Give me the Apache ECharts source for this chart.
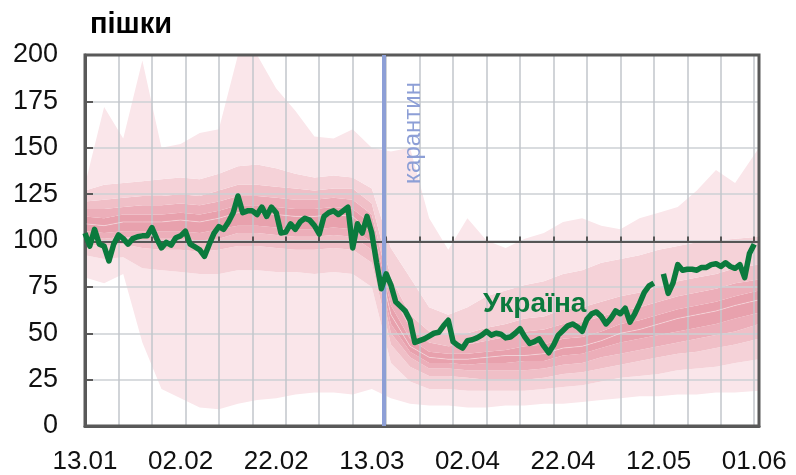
<!DOCTYPE html>
<html>
<head>
<meta charset="utf-8">
<script src="https://cdn.jsdelivr.net/npm/echarts@6/dist/echarts.min.js"></script>
<style>
  html, body { margin: 0; padding: 0; background: #fff; }
  #chart { width: 796px; height: 475px; }
</style>
</head>
<body>
<div id="chart"></div>
<script>
// дні від 13.01 (0) до 02.06 (141)
const dateLabels = ['13.01', '02.02', '22.02', '13.03', '02.04', '22.04', '12.05', '01.06'];
const quarantineDay = 62.5;

// Україна, пішки (щоденно, день 0..140)
const ukraine = [
  104, 97, 106, 98, 97, 89, 98, 103, 101, 98,
  101, 102, 102.5, 102.5, 107, 101, 96, 99, 97.5, 101.5,
  102.5, 105, 98, 96.5, 95, 91.5, 98, 104, 107.5, 106,
  110, 115, 124, 115, 116, 116, 114, 118, 113, 118,
  115, 104, 104.5, 109, 106, 110, 112, 111, 108, 103.5,
  113, 115, 116, 114, 116, 118, 96, 109, 104, 113,
  104, 88, 74, 82, 76, 67, 64.5, 62, 57, 45,
  46, 47, 48.5, 50, 50.5, 54, 57, 45.5, 43.5, 42,
  46, 46.5, 47.5, 49, 51, 49, 50, 49.5, 47.5, 48,
  50, 52.5, 48, 44.5, 45.5, 47, 43, 39.5, 43.5, 49,
  51.5, 54, 55, 53.5, 51, 57.5, 60.5, 61.5, 59, 55,
  58, 62, 60.5, 63.5, 56, 60.5, 66, 72, 75.5, 77,
  null, 82, 71.5, 77, 87, 84, 84.5, 84.5, 84, 85.5,
  85.5, 87, 87.5, 86, 88, 86, 85, 87, 80, 93,
  98
];

// віяло розподілу по регіонах (кожні 4 дні)
const bandDays = [0, 4, 8, 12, 16, 20, 24, 28, 32, 36, 40, 44, 48, 52, 56, 60, 64, 68, 72, 76,
  80, 84, 88, 92, 96, 100, 104, 108, 112, 116, 120, 124, 128, 132, 136, 141];
const lo1 = [80, 77, 82, 45, 20, 15, 10, 9, 12, 14, 15, 17, 18, 18, 17, 20, 15, 12, 11, 11, 10, 10, 11, 11, 12, 12, 13, 14, 15, 16, 16, 17, 17, 18, 18, 19];
const lo2 = [92, 90, 91, 85, 84, 83, 82, 82, 84, 84, 83, 83, 82, 83, 82, 75, 34, 24, 20, 20, 19, 19, 19, 19, 20, 21, 22, 24, 26, 27, 28, 30, 31, 32, 34, 36];
const lo3 = [98, 97, 98, 96, 95, 95, 94, 95, 97, 97, 96, 95, 95, 96, 95, 88, 44, 32, 27, 27, 26, 25, 25, 25, 26, 28, 29, 31, 33, 35, 37, 39, 40, 42, 44, 47];
const lo4 = [102, 101, 102, 101, 101, 101, 100, 101, 104, 104, 103, 102, 102, 103, 102, 95, 50, 37, 31, 31, 30, 30, 30, 30, 31, 33, 34, 37, 39, 41, 43, 45, 47, 49, 51, 55];
const lo5 = [105, 104, 105, 105, 105, 105, 104, 106, 108, 108, 107, 106, 106, 107, 106, 99, 55, 40, 34, 34, 33, 34, 34, 35, 35, 38, 39, 42, 45, 47, 49, 51, 53, 55, 58, 61];
const med = [109, 108, 110, 110, 110, 111, 110, 112, 115, 115, 114, 113, 113, 114, 113, 104, 60, 43, 37, 36, 36, 37, 38, 38, 39, 42, 43, 46, 50, 52, 55, 58, 60, 62, 65, 68];
const hi5 = [113, 112, 114, 114, 114, 115, 114, 116, 119, 119, 118, 117, 117, 118, 117, 109, 65, 47, 40, 39, 39, 40, 41, 43, 44, 47, 48, 51, 55, 57, 60, 63, 65, 67, 70, 73];
const hi4 = [117, 117, 118, 119, 119, 120, 119, 121, 124, 124, 123, 122, 122, 123, 122, 114, 72, 53, 45, 43, 44, 46, 48, 51, 52, 55, 56, 59, 62, 64, 67, 70, 72, 74, 77, 79];
const hi3 = [121, 122, 123, 124, 124, 125, 124, 127, 130, 130, 129, 128, 127, 128, 128, 120, 80, 60, 51, 49, 50, 53, 55, 58, 59, 63, 64, 67, 70, 72, 75, 78, 80, 82, 85, 87];
const hi2 = [127, 130, 131, 132, 133, 134, 133, 136, 140, 141, 139, 136, 134, 135, 134, 128, 96, 80, 64, 60, 64, 70, 73, 76, 78, 82, 84, 88, 90, 92, 95, 97, 99, 100, 101, 102];
const hi1 = [130, 172, 155, 197, 150, 152, 158, 160, 200, 200, 182, 170, 156, 155, 160, 150, 148, 150, 112, 95, 112, 100, 96, 101, 104, 110, 112, 108, 106, 112, 115, 118, 127, 138, 131, 150];

const font = 'Liberation Sans';
const green = '#0b7a3d';
const blue = '#8d9fd6';

const chart = echarts.init(document.getElementById('chart'));

const bounds = [lo1, lo2, lo3, lo4, lo5, med, hi5, hi4, hi3, hi2, hi1];
const bandColors = [null, '#fae6ea', '#f5d2d8', '#f0bfc7', '#ecaeb9', '#e8a1ad',
  '#e8a1ad', '#ecaeb9', '#f0bfc7', '#f5d2d8', '#fae6ea'];
const bandSeries = bounds.map((arr, k) => ({
  type: 'line',
  stack: 'fan',
  xAxisIndex: 0,
  symbol: 'none',
  silent: true,
  z: 2,
  lineStyle: { opacity: 0 },
  areaStyle: k === 0 ? { opacity: 0 } : { color: bandColors[k], opacity: 1 },
  data: arr.map((v, i) => [bandDays[i], k === 0 ? v : v - bounds[k - 1][i]])
}));

const days = Array.from({ length: 142 }, (_, i) => i);

chart.setOption({
  animation: false,
  title: {
    text: 'пішки',
    left: 85,
    top: 5,
    textStyle: { fontFamily: font, fontSize: 29, fontWeight: 'bold', color: '#000' }
  },
  grid: {
    left: 85, right: 37, top: 55, bottom: 47,
    show: true, z: 4,
    borderColor: '#595959', borderWidth: 3,
    backgroundColor: 'transparent'
  },
  xAxis: [{
    type: 'category',
    data: days,
    boundaryGap: false,
    position: 'bottom',
    z: 3,
    axisLine: { show: true, onZero: false, lineStyle: { color: '#595959', width: 3 } },
    axisTick: { show: false },
    axisLabel: {
      interval: (i) => i % 20 === 0,
      formatter: (v, i) => (i % 20 === 0 ? dateLabels[i / 20] : ''),
      fontFamily: font, fontSize: 26, color: '#111', margin: 23
    },
    splitLine: {
      show: true,
      interval: (i) => i % 7 === 0,
      lineStyle: { color: '#c2c6cb', width: 1.5 }
    }
  }, {
    // лінія 100 з тижневими рисками
    type: 'value',
    min: 0, max: 141, interval: 7,
    position: 'top',
    offset: -186.5,
    z: 4,
    axisLine: { show: true, onZero: false, lineStyle: { color: '#555', width: 2 } },
    axisTick: { show: true, inside: false, length: 5, lineStyle: { color: '#555', width: 2 } },
    axisLabel: { show: false },
    splitLine: { show: false }
  }],
  yAxis: {
    type: 'value',
    min: 0, max: 200, interval: 25,
    z: 3,
    axisLine: { show: true, lineStyle: { color: '#595959', width: 3 } },
    axisTick: { show: true, inside: true, length: 8, lineStyle: { color: '#595959', width: 2 } },
    axisLabel: { fontFamily: font, fontSize: 27, color: '#111', margin: 27 },
    splitLine: { show: true, lineStyle: { color: '#cdd1d5', width: 1.5 } }
  },
  graphic: [{
    type: 'text',
    left: 483, top: 290,
    z: 10,
    style: { text: 'Україна', font: 'bold 28px "Liberation Sans"', fill: green }
  }, {
    type: 'text',
    x: 413, y: 133,
    rotation: Math.PI / 2,
    z: 10,
    style: {
      text: 'карантин', font: '24px "Liberation Sans"', fill: blue,
      align: 'center', verticalAlign: 'middle'
    }
  }],
  series: [
    ...bandSeries,
    {
      type: 'line',
      xAxisIndex: 0,
      symbol: 'none',
      silent: true,
      z: 3,
      lineStyle: { color: 'rgba(255,255,255,0.35)', width: 1 },
      data: med.map((v, i) => [bandDays[i], v])
    },
    {
      name: 'Україна',
      type: 'line',
      xAxisIndex: 0,
      symbol: 'none',
      connectNulls: false,
      z: 6,
      lineStyle: { color: green, width: 5.5, join: 'round' },
      data: ukraine.map((v, i) => [i, v])
    },
    {
      type: 'line',
      xAxisIndex: 1,
      data: [],
      z: 7,
      markLine: {
        silent: true,
        symbol: 'none',
        label: { show: false },
        lineStyle: { color: blue, width: 4, type: 'solid' },
        data: [{ xAxis: quarantineDay }]
      }
    }
  ]
});
</script>
</body>
</html>
